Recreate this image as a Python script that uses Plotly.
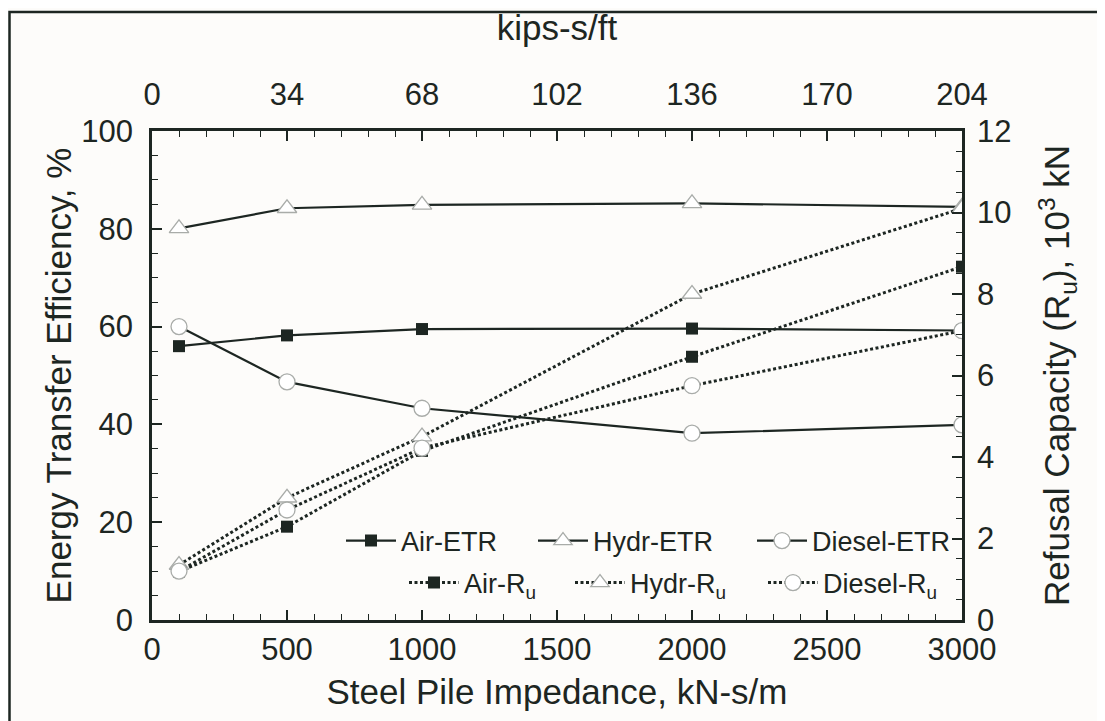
import plotly.graph_objects as go

# ---- data ----
impedance = [100, 500, 1000, 2000, 3000]          # kN-s/m
air_etr = [56.0, 58.2, 59.5, 59.6, 59.2]          # %
hydr_etr = [80.1, 84.2, 84.9, 85.2, 84.5]
diesel_etr = [60.0, 48.7, 43.3, 38.2, 39.9]
air_ru = [1.19, 2.29, 4.15, 6.46, 8.67]           # 10^3 kN
hydr_ru = [1.35, 3.0, 4.5, 8.0, 10.1]
diesel_ru = [1.2, 2.7, 4.22, 5.75, 7.1]

x_ticks = [0, 500, 1000, 1500, 2000, 2500, 3000]
top_ticks = [0, 34, 68, 102, 136, 170, 204]       # kips-s/ft
left_ticks = [0, 20, 40, 60, 80, 100]
right_ticks = [0, 2, 4, 6, 8, 10, 12]

INK = "#1d2622"
GRAY = "#a9aca9"
FONT = "Liberation Sans, Arial, Helvetica, sans-serif"
BG = "#fdfcfa"

fig = go.Figure()

sq = dict(symbol="square", size=12, color=INK, line=dict(width=0))
tri = dict(symbol="triangle-up", size=17, color="white", line=dict(width=1.3, color=GRAY))
cir = dict(symbol="circle", size=16, color="white", line=dict(width=1.3, color=GRAY))
solid = dict(color=INK, width=2.2)
dotted = dict(color=INK, width=3, dash="3px,2.5px")

fig.add_trace(go.Scatter(x=impedance, y=air_ru, yaxis="y2", mode="lines+markers",
                         name="Air-R<sub>u</sub>", line=dotted, marker=sq, legend="legend4"))
fig.add_trace(go.Scatter(x=impedance, y=hydr_ru, yaxis="y2", mode="lines+markers",
                         name="Hydr-R<sub>u</sub>", line=dotted, marker=tri, legend="legend5"))
fig.add_trace(go.Scatter(x=impedance, y=diesel_ru, yaxis="y2", mode="lines+markers",
                         name="Diesel-R<sub>u</sub>", line=dotted, marker=cir, legend="legend6"))
fig.add_trace(go.Scatter(x=impedance, y=air_etr, mode="lines+markers",
                         name="Air-ETR", line=solid, marker=sq, legend="legend"))
fig.add_trace(go.Scatter(x=impedance, y=hydr_etr, mode="lines+markers",
                         name="Hydr-ETR", line=solid, marker=tri, legend="legend2"))
fig.add_trace(go.Scatter(x=impedance, y=diesel_etr, mode="lines+markers",
                         name="Diesel-ETR", line=solid, marker=cir, legend="legend3"))
# carrier for the top (kips-s/ft) axis
fig.add_trace(go.Scatter(x=[None], y=[None], xaxis="x2", showlegend=False, hoverinfo="skip"))

# page body has an 8px margin: figure is sized to fit the window exactly
OFF = 8
W, H = 1105 - OFF, 721 - OFF
L, T = 152 - OFF, 131 - OFF
R = W - (962 - OFF)
B = H - (620 - OFF)
pw, ph = W - L - R, H - T - B


def px_x(p):  # window pixel -> paper fraction
    return (p - OFF - L) / pw


def px_y(p):
    return (H - B - (p - OFF)) / ph


tickfont = dict(family=FONT, size=31, color=INK)
titlefont = dict(family=FONT, size=35, color=INK)
axis_common = dict(showline=True, linecolor=INK, linewidth=2.5, ticks="inside",
                   tickcolor=INK, tickwidth=1.5, showgrid=False, zeroline=False,
                   tickfont=tickfont, automargin=False)

leg_common = dict(orientation="h", bgcolor="rgba(0,0,0,0)", borderwidth=0,
                  font=dict(family=FONT, size=27, color=INK), itemwidth=50,
                  xanchor="left", yanchor="middle", traceorder="normal")
row1_y = px_y(541)
row2_y = px_y(583)
TXT_OFF = 59  # legend box left -> text start

fig.update_layout(
    width=W, height=H,
    margin=dict(l=L, r=R, t=T, b=B, autoexpand=False),
    paper_bgcolor=BG, plot_bgcolor=BG,
    font=dict(family=FONT, color=INK),
    xaxis=dict(range=[0, 3000], tickvals=x_ticks, ticklen=10,
               minor=dict(dtick=100, ticklen=6, ticks="inside", tickcolor=INK, tickwidth=1.2),
               title=dict(text="Steel Pile Impedance, kN-s/m", font=titlefont, standoff=14),
               ticklabelstandoff=0, **axis_common),
    xaxis2=dict(range=[0, 204], tickvals=top_ticks, overlaying="x", side="top", anchor="y",
                ticklen=10,
                minor=dict(dtick=6.8, ticklen=6, ticks="inside", tickcolor=INK, tickwidth=1.2),
                title=dict(text="kips-s/ft", font=titlefont, standoff=43),
                ticklabelstandoff=11, **axis_common),
    yaxis=dict(range=[0, 100], tickvals=left_ticks, ticklen=10,
               minor=dict(dtick=5, ticklen=6, ticks="inside", tickcolor=INK, tickwidth=1.2),
               title=dict(text="Energy Transfer Efficiency, %", font=titlefont, standoff=0),
               ticklabelstandoff=10, **axis_common),
    yaxis2=dict(range=[0, 12], tickvals=right_ticks, overlaying="y", side="right", anchor="x",
                ticklen=10,
                minor=dict(dtick=0.5, ticklen=6, ticks="inside", tickcolor=INK, tickwidth=1.2),
                title=dict(text="Refusal Capacity (R<sub>u</sub>), 10<sup>3</sup> kN",
                           font=titlefont, standoff=35),
                ticklabelstandoff=6, **axis_common),
    legend=dict(x=px_x(400 - TXT_OFF), y=row1_y, **leg_common),
    legend2=dict(x=px_x(592 - TXT_OFF), y=row1_y, **leg_common),
    legend3=dict(x=px_x(811 - TXT_OFF), y=row1_y, **leg_common),
    legend4=dict(x=px_x(463 - TXT_OFF), y=row2_y, **leg_common),
    legend5=dict(x=px_x(629 - TXT_OFF), y=row2_y, **leg_common),
    legend6=dict(x=px_x(822 - TXT_OFF), y=row2_y, **leg_common),
    showlegend=True,
)

# outer frame of the figure
fig.add_shape(type="rect", xref="paper", yref="paper",
              x0=px_x(9.5), x1=px_x(1125), y0=px_y(745), y1=px_y(12),
              line=dict(color=INK, width=2.5), fillcolor="rgba(0,0,0,0)", layer="below")

fig.write_html("out.html")
